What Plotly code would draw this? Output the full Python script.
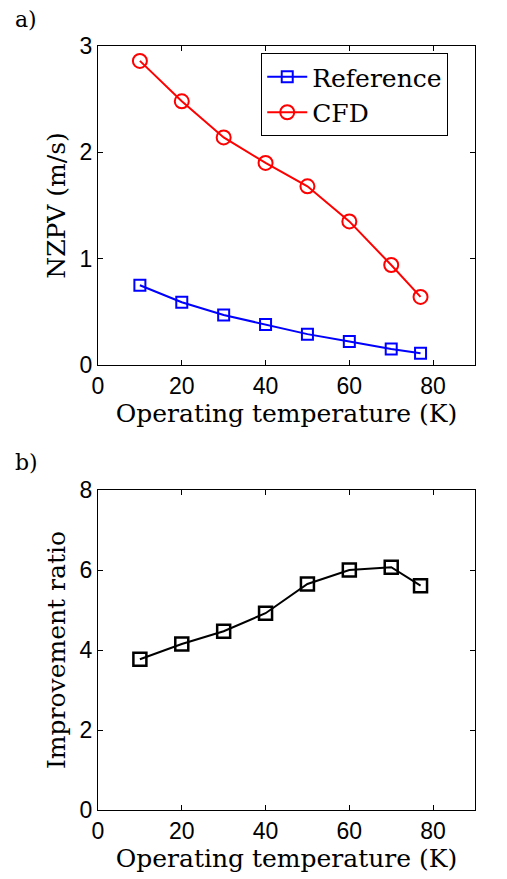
import plotly.graph_objects as go
from plotly.subplots import make_subplots

temps = [10, 20, 30, 40, 50, 60, 70, 77]
nzpv_reference = [0.75, 0.59, 0.47, 0.38, 0.29, 0.22, 0.15, 0.11]
nzpv_cfd = [2.86, 2.48, 2.14, 1.90, 1.68, 1.35, 0.94, 0.64]
improvement_ratio = [3.77, 4.15, 4.47, 4.92, 5.65, 6.00, 6.07, 5.61]

serif = "DejaVu Serif"
sans = "Liberation Sans"
TITLE_SIZE = 25

fig = make_subplots(rows=2, cols=1)
fig.add_trace(go.Scatter(x=temps, y=nzpv_reference, name="Reference", mode="lines+markers",
                         line=dict(color="#0000ff", width=2),
                         marker=dict(symbol="square-open", size=11, color="#0000ff", line=dict(width=2))),
              row=1, col=1)
fig.add_trace(go.Scatter(x=temps, y=nzpv_cfd, name="CFD", mode="lines+markers",
                         line=dict(color="#ff0000", width=2),
                         marker=dict(symbol="circle-open", size=14, color="#ff0000", line=dict(width=2))),
              row=1, col=1)
fig.add_trace(go.Scatter(x=temps, y=improvement_ratio, name="Improvement ratio", mode="lines+markers",
                         showlegend=False,
                         line=dict(color="#000000", width=2),
                         marker=dict(symbol="square-open", size=13, color="#000000", line=dict(width=2.5))),
              row=2, col=1)

axis_common = dict(showline=True, linecolor="black", linewidth=1, mirror="ticks",
                   ticks="inside", ticklen=5, tickcolor="black", showgrid=False, zeroline=False,
                   tickfont=dict(family=sans, size=23, color="black"))

title_font = dict(family=serif, size=TITLE_SIZE, color="black")

fig.update_layout(
    width=507, height=879,
    margin=dict(l=98, r=32, t=46, b=69),
    paper_bgcolor="white", plot_bgcolor="white",
    xaxis=dict(domain=[0, 1], range=[0, 90], tickvals=[0, 20, 40, 60, 80],
               title=dict(text="Operating temperature (K)", font=title_font, standoff=0),
               **axis_common),
    yaxis=dict(domain=[0.5825, 1], range=[0, 3], tickvals=[0, 1, 2, 3],
               title=dict(text="NZPV (m/s)", font=title_font, standoff=6),
               **axis_common),
    xaxis2=dict(domain=[0, 1], range=[0, 90], tickvals=[0, 20, 40, 60, 80],
                title=dict(text="Operating temperature (K)", font=title_font, standoff=0),
                **axis_common),
    yaxis2=dict(domain=[0, 0.4188], range=[0, 8], tickvals=[0, 2, 4, 6, 8],
                title=dict(text="Improvement ratio", font=title_font, standoff=6),
                **axis_common),
    legend=dict(x=0.433, y=0.9908, xanchor="left", yanchor="top", xref="paper", yref="paper",
                bordercolor="black", borderwidth=1, bgcolor="white",
                font=dict(family=serif, size=TITLE_SIZE, color="black"), tracegroupgap=0, itemwidth=40),
    showlegend=True,
)

plot_h = 879 - 46 - 69
plot_w = 507 - 98 - 32
def px_to_paper(x, y):
    return (x - 98) / plot_w, 1 - (y - 46) / plot_h

for label, (px, py) in [("a)", (26, 20)), ("b)", (26, 463))]:
    ax, ay = px_to_paper(px, py)
    fig.add_annotation(text=label, x=ax, y=ay, xref="paper", yref="paper", showarrow=False,
                       xanchor="center", yanchor="middle",
                       font=dict(family=serif, size=22, color="black"))

fig.write_html("out.html")
